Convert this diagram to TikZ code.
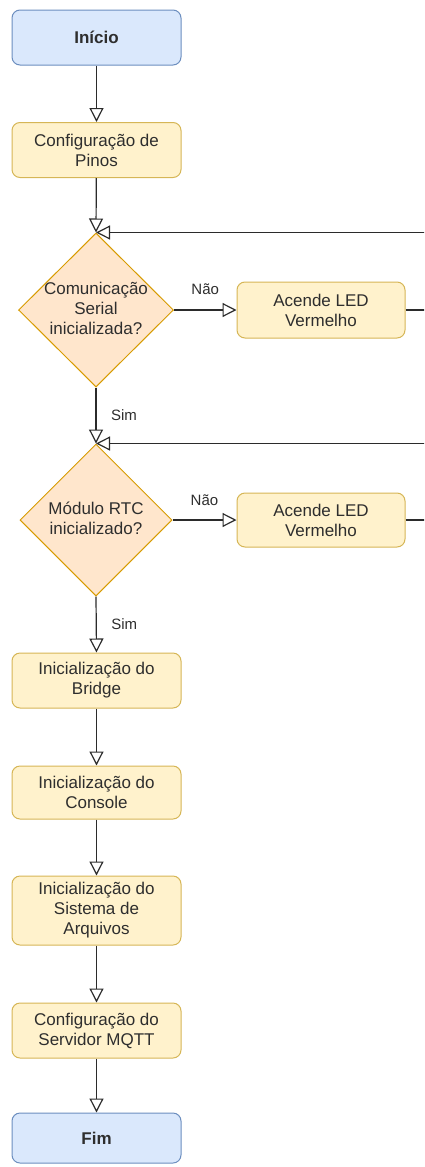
\documentclass[tikz,border=0pt]{standalone}
\usepackage{fontspec}
\setmainfont{Liberation Sans}
\usetikzlibrary{arrows.meta,shapes.geometric}
\definecolor{termfill}{HTML}{DAE8FC}
\definecolor{termline}{HTML}{6C8EBF}
\definecolor{procfill}{HTML}{FFF2CC}
\definecolor{procline}{HTML}{D6B656}
\definecolor{decfill}{HTML}{FFE6CC}
\definecolor{decline}{HTML}{D79B00}
\definecolor{lineclr}{HTML}{2B2B2B}
\definecolor{txtclr}{HTML}{2E2E2E}
\begin{document}
\begin{tikzpicture}[x=1pt,y=1pt,
  every node/.style={font=\fontsize{17}{20}\selectfont, text=txtclr},
  proc/.style={draw=procline, fill=procfill, rounded corners=8pt, line width=1pt,
    minimum width=169pt, minimum height=55pt, align=center, inner sep=0pt},
  term/.style={draw=termline, fill=termfill, rounded corners=8pt, line width=1pt,
    minimum width=169pt, minimum height=55pt, inner sep=0pt,
    font=\fontsize{17}{20}\selectfont\bfseries},
  dec/.style={diamond, draw=decline, fill=decfill, line width=1pt, inner sep=0pt},
  dectext/.style={align=center, inner sep=0pt},
  flow/.style={draw=lineclr, line width=1.2pt, -{Triangle[open, length=14pt, width=14pt]}},
  lbl/.style={font=\fontsize{15}{18}\selectfont, inner sep=0pt}]
\useasboundingbox (0,0) rectangle (424,-1167);
\clip (0,0) rectangle (424,-1167);

\node[term] (inicio) at (96.5,-37.5) {Início};
\node[proc] (pinos) at (96.5,-150) {Configuração de\\Pinos};
\node[dec, minimum width=155pt, minimum height=154pt] (d1) at (96,-310) {};
\node[dectext] (d1t) at (96,-308) {Comunicação\\Serial\\inicializada?};
\node[proc, minimum width=168pt, minimum height=56pt] (led1) at (321,-310) {Acende LED\\Vermelho};
\node[dec, minimum width=152pt, minimum height=152pt] (d2) at (96,-520) {};
\node[dectext] (d2t) at (96,-518) {Módulo RTC\\inicializado?};
\node[proc, minimum width=168pt, minimum height=54pt] (led2) at (321,-520) {Acende LED\\Vermelho};
\node[proc] (bridge) at (96.5,-680.5) {Inicialização do\\Bridge};
\node[proc, minimum height=53pt] (console) at (96.5,-792.5) {Inicialização do\\Console};
\node[proc, minimum height=69pt] (sistema) at (96.5,-910.5) {Inicialização do\\Sistema de\\Arquivos};
\node[proc] (mqtt) at (96.5,-1030.5) {Configuração do\\Servidor MQTT};
\node[term, minimum height=50pt] (fim) at (96.5,-1138) {Fim};

\draw[flow] (inicio) -- (pinos);
\draw[flow] (pinos) -- (d1.north);
\draw[flow] (d1.east) -- node[lbl, yshift=21pt] {Não} (led1.west);
\draw[flow] (led1.east) -- ++(40,0) |- (d1.north);
\draw[flow] (d1.south) -- node[lbl, xshift=28pt] {Sim} (d2.north);
\draw[flow] (d2.east) -- node[lbl, yshift=20pt] {Não} (led2.west);
\draw[flow] (led2.east) -- ++(40,0) |- (d2.north);
\draw[flow] (d2.south) -- node[lbl, xshift=28pt] {Sim} (bridge.north);
\draw[flow] (bridge) -- (console);
\draw[flow] (console) -- (sistema);
\draw[flow] (sistema) -- (mqtt);
\draw[flow] (mqtt) -- (fim);
\end{tikzpicture}
\end{document}
